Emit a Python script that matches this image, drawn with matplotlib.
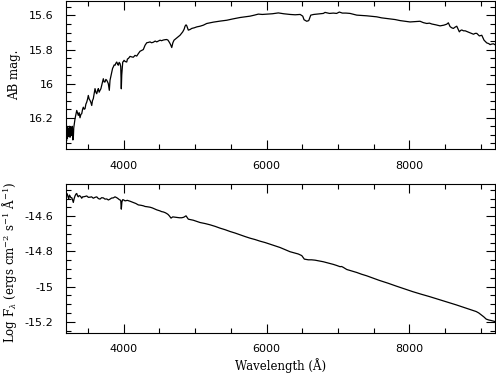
import numpy as np
import matplotlib
matplotlib.use("Agg")
import matplotlib.pyplot as plt
from matplotlib.ticker import MultipleLocator, FormatStrFormatter

# Spectrum: AB magnitude (top) and log flux (bottom)
top_wave = [3192, 3200, 3206, 3212, 3218, 3224, 3232, 3240, 3248, 3256, 3264, 3272, 3280, 3288,
            3294, 3300, 3318, 3330, 3342, 3352, 3364, 3376, 3388, 3400, 3412, 3424, 3434, 3446,
            3458, 3470, 3482, 3494, 3504, 3516, 3528, 3540, 3552, 3562, 3574, 3586, 3598, 3610,
            3622, 3634, 3644, 3656, 3668, 3680, 3692, 3704, 3714, 3726, 3738, 3750, 3762, 3774,
            3784, 3798, 3808, 3818, 3832, 3844, 3854, 3866, 3878, 3890, 3902, 3914, 3924, 3936,
            3948, 3958, 3966, 3972, 3986, 3996, 4004, 4020, 4042, 4052, 4064, 4088, 4112, 4134,
            4158, 4182, 4204, 4228, 4250, 4274, 4298, 4322, 4345, 4368, 4390, 4414, 4440, 4462,
            4485, 4508, 4530, 4554, 4580, 4602, 4620, 4638, 4655, 4672, 4688, 4704, 4742, 4788,
            4826, 4846, 4858, 4872, 4882, 4904, 4930, 4952, 4990, 5022, 5068, 5114, 5162, 5208,
            5256, 5350, 5442, 5530, 5628, 5700, 5768, 5830, 5884, 5940, 6002, 6080, 6164, 6240,
            6328, 6400, 6470, 6506, 6524, 6562, 6590, 6618, 6660, 6702, 6794, 6818, 6880, 6934,
            6980, 7018, 7060, 7110, 7168, 7262, 7330, 7402, 7470, 7542, 7610, 7682, 7728, 7800,
            7868, 7940, 8008, 8080, 8148, 8194, 8242, 8280, 8312, 8370, 8428, 8480, 8522, 8544,
            8568, 8590, 8614, 8640, 8662, 8698, 8715, 8732, 8756, 8780, 8810, 8848, 8870, 8896,
            8920, 8942, 8978, 9012, 9044, 9082, 9110, 9128, 9150, 9174, 9200]
top_mag = [16.30, 16.334, 16.25, 16.32, 16.26, 16.265, 16.31, 16.25, 16.314, 16.255, 16.30, 16.304,
           16.25, 16.33, 16.324, 16.26, 16.206, 16.18, 16.157, 16.17, 16.186, 16.17, 16.20, 16.18,
           16.176, 16.15, 16.138, 16.15, 16.147, 16.12, 16.108, 16.09, 16.069, 16.09, 16.098, 16.11,
           16.128, 16.10, 16.088, 16.06, 16.029, 16.05, 16.059, 16.04, 16.029, 16.05, 16.039, 16.03,
           16.01, 15.99, 15.971, 15.99, 15.99, 15.975, 15.98, 15.99, 16.0, 16.039, 15.98, 15.961,
           15.932, 15.91, 15.902, 15.89, 15.892, 15.88, 15.873, 15.885, 15.892, 15.875, 15.882, 15.90,
           16.03, 15.95, 15.873, 15.87, 15.863, 15.87, 15.873, 15.855, 15.853, 15.84, 15.843, 15.845,
           15.834, 15.838, 15.824, 15.81, 15.805, 15.80, 15.775, 15.76, 15.758, 15.755, 15.76, 15.757,
           15.75, 15.755, 15.75, 15.745, 15.748, 15.744, 15.742, 15.741, 15.745, 15.757, 15.77, 15.788,
           15.76, 15.745, 15.732, 15.716, 15.696, 15.68, 15.663, 15.655, 15.66, 15.686, 15.682, 15.676,
           15.672, 15.667, 15.663, 15.657, 15.647, 15.643, 15.639, 15.633, 15.628, 15.62, 15.612,
           15.608, 15.604, 15.598, 15.592, 15.594, 15.592, 15.59, 15.585, 15.59, 15.594, 15.596,
           15.594, 15.604, 15.625, 15.634, 15.63, 15.598, 15.594, 15.592, 15.588, 15.582, 15.588,
           15.586, 15.588, 15.58, 15.586, 15.586, 15.588, 15.598, 15.600, 15.602, 15.605, 15.608,
           15.614, 15.618, 15.62, 15.624, 15.63, 15.634, 15.638, 15.636, 15.634, 15.642, 15.647,
           15.645, 15.650, 15.655, 15.661, 15.657, 15.651, 15.643, 15.665, 15.672, 15.676, 15.668,
           15.663, 15.696, 15.688, 15.685, 15.69, 15.69, 15.695, 15.702, 15.705, 15.71, 15.705,
           15.705, 15.72, 15.716, 15.745, 15.761, 15.765, 15.771, 15.768, 15.766, 15.772]

bot_wave = [3192, 3200, 3210, 3220, 3230, 3240, 3248, 3260, 3272, 3282, 3294, 3306, 3318, 3330,
            3342, 3354, 3364, 3376, 3388, 3400, 3412, 3424, 3434, 3458, 3482, 3505, 3528, 3550,
            3574, 3598, 3622, 3645, 3668, 3690, 3714, 3738, 3762, 3785, 3808, 3830, 3854, 3878,
            3902, 3920, 3938, 3958, 3966, 3974, 3986, 4000, 4018, 4050, 4088, 4134, 4170, 4204,
            4240, 4274, 4300, 4322, 4368, 4400, 4438, 4462, 4508, 4530, 4554, 4580, 4602, 4620,
            4638, 4662, 4686, 4720, 4742, 4780, 4812, 4840, 4872, 4904, 4974, 5068, 5140, 5208,
            5280, 5348, 5420, 5488, 5560, 5628, 5700, 5768, 5840, 5908, 5980, 6048, 6120, 6188,
            6260, 6328, 6400, 6444, 6492, 6528, 6584, 6630, 6678, 6740, 6794, 6860, 6934, 6980,
            7028, 7050, 7074, 7122, 7190, 7262, 7330, 7402, 7490, 7578, 7700, 7812, 7930, 8046,
            8160, 8280, 8400, 8514, 8580, 8654, 8720, 8794, 8860, 8934, 8970, 9004, 9040, 9074,
            9110, 9144, 9200]
bot_logf = [-14.485, -14.47, -14.475, -14.49, -14.5, -14.48, -14.485, -14.495, -14.495, -14.505,
            -14.522, -14.5, -14.485, -14.475, -14.471, -14.485, -14.49, -14.483, -14.485, -14.49,
            -14.498, -14.49, -14.49, -14.488, -14.485, -14.493, -14.492, -14.49, -14.498, -14.493,
            -14.49, -14.5, -14.503, -14.495, -14.496, -14.503, -14.502, -14.508, -14.503, -14.497,
            -14.496, -14.49, -14.495, -14.5, -14.506, -14.51, -14.56, -14.52, -14.506, -14.508,
            -14.513, -14.51, -14.515, -14.522, -14.528, -14.536, -14.538, -14.541, -14.545, -14.546,
            -14.549, -14.553, -14.56, -14.564, -14.57, -14.574, -14.576, -14.58, -14.585, -14.59,
            -14.598, -14.611, -14.604, -14.606, -14.607, -14.609, -14.609, -14.606, -14.598, -14.617,
            -14.623, -14.636, -14.642, -14.649, -14.658, -14.668, -14.677, -14.687, -14.696, -14.706,
            -14.716, -14.725, -14.733, -14.742, -14.75, -14.759, -14.768, -14.778, -14.79, -14.802,
            -14.81, -14.815, -14.824, -14.844, -14.848, -14.848, -14.85, -14.855, -14.859, -14.866,
            -14.874, -14.88, -14.887, -14.886, -14.891, -14.903, -14.911, -14.92, -14.93, -14.939,
            -14.952, -14.965, -14.981, -14.997, -15.013, -15.029, -15.043, -15.057, -15.072, -15.086,
            -15.094, -15.104, -15.113, -15.123, -15.132, -15.142, -15.15, -15.161, -15.172, -15.185,
            -15.19, -15.193, -15.199]

plt.rcParams['axes.unicode_minus'] = False
plt.rcParams['mathtext.fontset'] = 'dejavuserif'


def StyleAxis(ax, ymajor, yminor):
    # inward ticks on all four sides, like the original plot
    ax.xaxis.set_major_locator(MultipleLocator(2000))
    ax.xaxis.set_minor_locator(MultipleLocator(500))
    ax.yaxis.set_major_locator(MultipleLocator(ymajor))
    ax.yaxis.set_minor_locator(MultipleLocator(yminor))
    ax.yaxis.set_major_formatter(FormatStrFormatter('%g'))
    ax.tick_params(which='both', direction='in', top=True, right=True, width=0.8, labelsize=8)
    ax.tick_params(which='major', length=6.5)
    ax.tick_params(which='minor', length=3.6)
    ax.tick_params(axis='x', pad=8)
    ax.tick_params(axis='y', pad=9)
    for s in ax.spines.values():
        s.set_linewidth(0.8)
    ax.set_xlim(3192, 9198)


fig = plt.figure(figsize=(4.96, 3.74), dpi=100)

# Top panel: AB magnitude (inverted axis)
ax1 = fig.add_axes([0.1331, 0.6003, 0.865, 0.398])
ax1.plot(top_wave, top_mag, color='black', lw=0.9)
StyleAxis(ax1, 0.2, 0.05)
ax1.set_ylim(16.386, 15.513)
ax1.set_ylabel('AB mag.', family='DejaVu Serif', fontsize=8.5)
ax1.yaxis.set_label_coords(-0.105, 0.5)

# Bottom panel: log flux
ax2 = fig.add_axes([0.1331, 0.1096, 0.865, 0.398])
ax2.plot(bot_wave, bot_logf, color='black', lw=0.9)
StyleAxis(ax2, 0.2, 0.05)
ax2.set_ylim(-15.264, -14.418)
ax2.set_ylabel(r'Log F$_\lambda$ (ergs cm$^{-2}$ s$^{-1}$ Å$^{-1}$)', family='DejaVu Serif', fontsize=8.5)
ax2.yaxis.set_label_coords(-0.11, 0.475)
ax2.set_xlabel('Wavelength (Å)', family='DejaVu Serif', fontsize=8.5, labelpad=3)

fig.savefig('out.png', dpi=100)
